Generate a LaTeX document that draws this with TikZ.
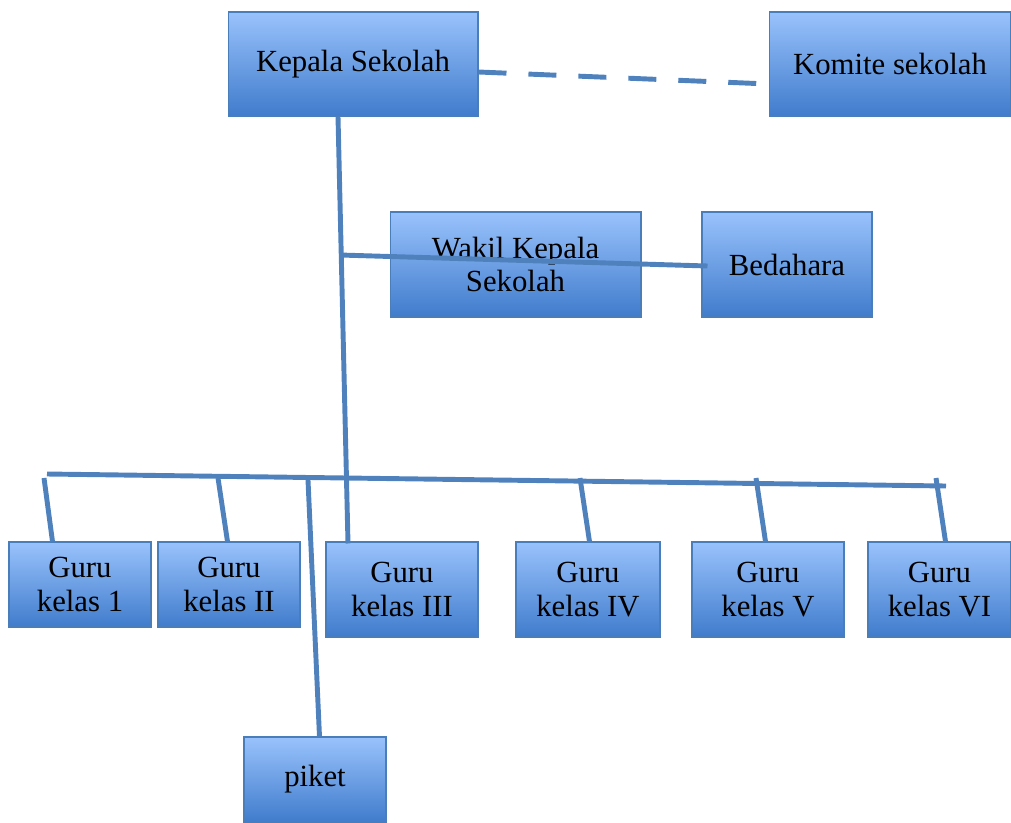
\documentclass[tikz,border=0pt]{standalone}
\usepackage{fontspec}
\setmainfont{Liberation Serif}
\usepackage{tikz}
\usetikzlibrary{calc}

\definecolor{linkblue}{RGB}{79,129,189}
\definecolor{boxtop}{RGB}{153,194,252}
\definecolor{boxbot}{RGB}{64,124,204}
\definecolor{boxedge}{RGB}{74,126,187}

\tikzset{
  unit/.style={draw=boxedge, line width=0.6pt, top color=boxtop, bottom color=boxbot,
    align=center, inner sep=0pt, font=\fontsize{17.5}{19}\selectfont},
  link/.style={draw=linkblue, line width=2.8pt},
  dashlink/.style={link, dash pattern=on 0.56cm off 0.44cm}
}

\begin{document}
\begin{tikzpicture}[x=0.02cm, y=-0.02cm]
  \useasboundingbox (0,0) rectangle (1011,822);

  % top level
  \node[unit, minimum width=5cm, minimum height=2.08cm] (kepala) at (353,64) {Kepala Sekolah};
  \node[unit, minimum width=4.84cm, minimum height=2.08cm] (komite) at (890,64) {Komite sekolah};

  % middle level
  \node[unit, minimum width=5.02cm, minimum height=2.1cm] (wakil) at (515.5,264.5) {Wakil Kepala\\Sekolah};
  \node[unit, minimum width=3.4cm, minimum height=2.1cm] (bendahara) at (787,264.5) {Bedahara};

  % teachers
  \node[unit, minimum width=2.84cm, minimum height=1.7cm] (g1) at (80,584.5) {Guru\\kelas 1};
  \node[unit, minimum width=2.84cm, minimum height=1.7cm] (g2) at (229,584.5) {Guru\\kelas II};
  \node[unit, minimum width=3.04cm, minimum height=1.9cm] (g3) at (402,589.5) {Guru\\kelas III};
  \node[unit, minimum width=2.88cm, minimum height=1.9cm] (g4) at (588,589.5) {Guru\\kelas IV};
  \node[unit, minimum width=3.04cm, minimum height=1.9cm] (g5) at (768,589.5) {Guru\\kelas V};
  \node[unit, minimum width=2.86cm, minimum height=1.9cm] (g6) at (939.5,589.5) {Guru\\kelas VI};
  \node[unit, minimum width=2.84cm, minimum height=1.7cm] (piket) at (315,779.5) {piket};

  % junctions
  \coordinate (wj) at (340,255);
  \coordinate (busL) at (47,474);
  \coordinate (busR) at (946,486);
  \coordinate (t1) at (44,478);
  \coordinate (t2) at (218,478);
  \coordinate (tp) at (308,480);
  \coordinate (t4) at (580,478);
  \coordinate (t5) at (756,478);
  \coordinate (t6) at (936,478);

  \draw[dashlink] ($(kepala.east)+(0,8)$) -- ($(komite.west)+(0,20)$);
  \draw[link] ($(kepala.south)+(-15,0)$) -- ($(g3.north)+(-54,2)$);
  \draw[link] (wj) -- ($(bendahara.west)+(6,1.5)$);

  \draw[link] (busL) -- (busR);
  \draw[link] (t1) -- ($(g1.north west)+(44,0)$);
  \draw[link] (t2) -- ($(g2.north west)+(70,0)$);
  \draw[link] (tp) -- ($(piket.north west)+(76,0)$);
  \draw[link] (t4) -- ($(g4.north west)+(74,0)$);
  \draw[link] (t5) -- ($(g5.north west)+(74,0)$);
  \draw[link] (t6) -- ($(g6.north west)+(78,0)$);
\end{tikzpicture}
\end{document}
